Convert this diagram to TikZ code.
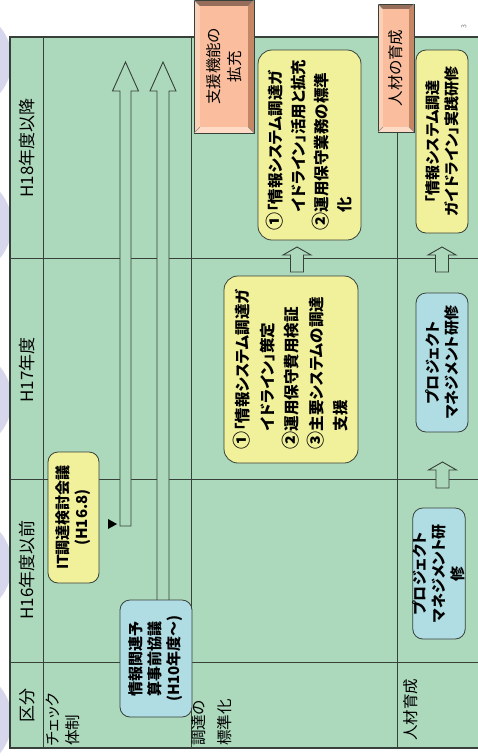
\documentclass[tikz,border=0pt]{standalone}
\usepackage{fontspec}
\setmainfont{Noto Sans CJK JP}[RawFeature={+palt}]
\usetikzlibrary{positioning, calc}

\definecolor{tblgreen}{RGB}{172,216,188}
\definecolor{boxyellow}{RGB}{242,241,155}
\definecolor{boxblue}{RGB}{176,221,228}
\definecolor{salmon}{RGB}{250,190,158}
\definecolor{bvtop}{RGB}{150,108,90}
\definecolor{bvright}{RGB}{196,134,100}
\definecolor{bvbottom}{RGB}{254,219,198}
\definecolor{bvleft}{RGB}{252,208,181}
\definecolor{lavender}{RGB}{214,214,236}
\definecolor{gridline}{RGB}{55,65,58}

% block arrow: base, tip, shaft width, head width, head length
\newcommand\blockarrow[5]{%
  \draw[arrowline] ($(#1)+(-#3/2,0)$) -- ($(#2)+(-#3/2,#5)$) -- ($(#2)+(-#4/2,#5)$)
    -- (#2) -- ($(#2)+(#4/2,#5)$) -- ($(#2)+(#3/2,#5)$) -- ($(#1)+(#3/2,0)$) -- cycle;}

% bevelled plate: left, top, right, bottom, depth
\newcommand\bevelbox[5]{%
  \fill[bvtop] (#1,#2) -- (#3,#2) -- (#3-#5,#2+#5) -- (#1+#5,#2+#5) -- cycle;
  \fill[bvright] (#3,#2) -- (#3,#4) -- (#3-#5,#4-#5) -- (#3-#5,#2+#5) -- cycle;
  \fill[bvbottom] (#3,#4) -- (#1,#4) -- (#1+#5,#4-#5) -- (#3-#5,#4-#5) -- cycle;
  \fill[bvleft] (#1,#4) -- (#1,#2) -- (#1+#5,#2+#5) -- (#1+#5,#4-#5) -- cycle;
  \fill[salmon] (#1+#5,#2+#5) rectangle (#3-#5,#4-#5);
  \draw[gridline, line width=0.8pt] (#1,#2) rectangle (#3,#4);
  \draw[gridline!60, line width=0.4pt] (#1,#2) -- (#1+#5,#2+#5) (#3,#2) -- (#3-#5,#2+#5)
    (#3,#4) -- (#3-#5,#4-#5) (#1,#4) -- (#1+#5,#4-#5);}

\newcommand\maru[1]{{\fontsize{18}{18}\selectfont#1}}

\begin{document}
\begin{tikzpicture}[x=1pt, y=-1pt,
    grid/.style={gridline, line width=0.9pt},
    frame/.style={gridline, line width=2pt},
    arrowline/.style={draw=gridline, fill=tblgreen, line width=0.9pt},
    head/.style={rotate=90, font=\fontsize{17}{20}\selectfont},
    rowlabel/.style={rotate=90, font=\fontsize{15.5}{20}\selectfont, align=left, anchor=north west, inner sep=0pt},
    ybox/.style={draw=gridline, fill=boxyellow, rounded corners=10pt, rotate=90, line width=0.8pt,
      font=\bfseries\fontsize{15}{19}\selectfont, align=center, inner sep=0pt},
    bbox/.style={ybox, fill=boxblue},
    plate/.style={rotate=90, inner sep=0pt, align=center, font=\fontsize{15.5}{21}\selectfont},
    pagenum/.style={rotate=90, text=gray, font=\fontsize{7}{8}\selectfont}]
\useasboundingbox (0,0) rectangle (478,756);

% background
\foreach \cy in {60,225,400,565,720}
  \fill[lavender] (-40,\cy) circle (52);

% table
\fill[tblgreen] (10,37) rectangle (478,748);
\draw[grid] (43,37) -- (43,748);
\draw[grid] (191,37) -- (191,748);
\draw[grid] (397,37) -- (397,748);
\foreach \yy in {258,479,662}
  \draw[grid] (10,\yy) -- (478,\yy);
\draw[frame] (478,37) -- (10,37) -- (10,748) -- (478,748);

% headers
\node[head] (h18) at (27,148) {H18年度以降};
\node[head] (h17) at (27,370) {H17年度};
\node[head] (h16) at (27,570) {H16年度以前};
\node[head] (kubun) at (27,705) {区分};
\node[rowlabel] (check) at (46,746) {チェック\\体制};
\node[rowlabel, font=\fontsize{15.5}{26}\selectfont] (chotatsu) at (191,746) {調達の\\標準化};
\node[rowlabel] (jinzai) at (403,741) {人材育成};

% long arrows
\coordinate (a1b) at (125.5,526);
\coordinate (a1t) at (125.5,62);
\coordinate (a2b) at (163,610);
\coordinate (a2t) at (163,62);
\blockarrow{a1b}{a1t}{11}{26}{29}
\blockarrow{a2b}{a2t}{12}{26}{29}
\fill (108,519) -- (117,524) -- (108,529) -- cycle;

% boxes
\node[ybox, minimum width=131, minimum height=51] (itkaigi) at (73.5,517.5)
  {IT調達検討会議\\(H16.8)};
\node[bbox, minimum width=117, minimum height=72] (yosan) at (156,658.5)
  {情報関連予\\算事前協議\\(H10年度～)};
\node[ybox, align=left, rounded corners=14pt, minimum width=187, minimum height=134,
  font=\bfseries\fontsize{15.5}{24.5}\selectfont] (std17) at (291,369.5)
  {\maru{①}「情報システム調達ガ\\\phantom{\maru{①}}イドライン」策定\\\maru{②}運用保守費用検証\\\maru{③}主要システムの調達\\\phantom{\maru{③}}支援};
\node[ybox, align=left, rounded corners=14pt, minimum width=190, minimum height=103,
  font=\bfseries\fontsize{15.5}{23}\selectfont] (std18) at (309.5,145)
  {\maru{①}「情報システム調達ガ\\\phantom{\maru{①}}イドライン」活用と拡充\\\maru{②}運用保守業務の標準\\\phantom{\maru{②}}化};
\node[bbox, minimum width=131, minimum height=52] (pm16) at (439,573.5)
  {プロジェクト\\マネジメント研\\修};
\node[bbox, minimum width=139, minimum height=52] (pm17) at (442,362.5)
  {プロジェクト\\マネジメント研修};
\node[ybox, minimum width=183, minimum height=52] (gl18) at (442,141.5)
  {「情報システム調達\\ガイドライン」実践研修};

% small arrows between years
\coordinate (s1b) at (297,272);
\coordinate (s1t) at (297,247);
\coordinate (s2b) at (442.5,488);
\coordinate (s2t) at (442.5,462);
\coordinate (s3b) at (442,272);
\coordinate (s3t) at (442,247);
\blockarrow{s1b}{s1t}{13}{28}{8}
\blockarrow{s2b}{s2t}{13}{28}{8}
\blockarrow{s3b}{s3t}{13}{28}{8}

% bevelled titles
\bevelbox{194}{0}{254}{133}{6}
\node[plate] (shien) at (224,66.5) {支援機能の\\拡充};
\bevelbox{378}{4}{414}{132}{5}
\node[plate] (ikusei) at (396,68) {人材の育成};

\node[pagenum] (pg) at (464,27) {3};
\end{tikzpicture}
\end{document}
